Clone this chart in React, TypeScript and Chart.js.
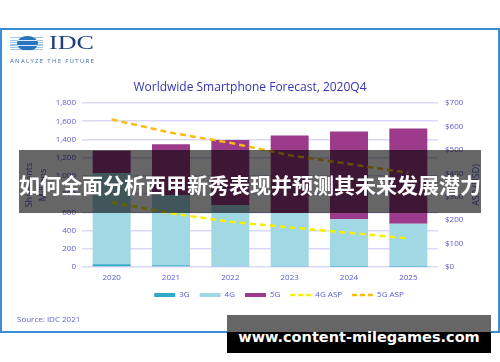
import React, { useEffect, useRef } from 'react';
import { Chart, registerables } from 'chart.js';

Chart.register(...registerables);

const categories = ['2020', '2021', '2022', '2023', '2024', '2025'];
const shipments3G = [30, 20, 12, 6, 3, 2];
const shipments4G = [1003, 771, 669, 587, 521, 474];
const shipments5G = [242, 557, 714, 850, 963, 1044];
const asp4G = [276, 229, 193, 169, 146, 122];
const asp5G = [630, 573, 530, 477, 440, 402];
const shipmentTicks = [0, 200, 400, 600, 800, 1000, 1200, 1400, 1600, 1800];
const aspTicks = [0, 100, 200, 300, 400, 500, 600, 700];

const COLORS = {
  g3: '#31a9c6',
  g4: '#a0d8e3',
  g5: '#9c3b8b',
  asp4: '#f5f000',
  asp5: '#fbbc10',
  tick: '#5a5ad2',
  grid: '#d9d9f5',
};

const TICK_FONT = { family: '"Open Sans", sans-serif', size: 8 };

export default function App() {
  const ref = useRef<HTMLCanvasElement>(null);

  useEffect(() => {
    const canvas = ref.current;
    if (!canvas) return;
    const legendShift = {
      id: 'legendShift',
      afterLayout(chart: any) {
        if (chart.legend) {
          chart.legend.left += 29;
          chart.legend.right += 29;
        }
      },
    };
    const chart = new Chart(canvas, {
      type: 'bar',
      data: {
        labels: categories,
        datasets: [
          { type: 'bar', label: '3G', data: shipments3G, backgroundColor: COLORS.g3, yAxisID: 'y', order: 1 },
          { type: 'bar', label: '4G', data: shipments4G, backgroundColor: COLORS.g4, yAxisID: 'y', order: 1 },
          { type: 'bar', label: '5G', data: shipments5G, backgroundColor: COLORS.g5, yAxisID: 'y', order: 1 },
          {
            type: 'line', label: '4G ASP', data: asp4G, borderColor: COLORS.asp4, backgroundColor: COLORS.asp4,
            borderWidth: 2.5, borderDash: [6, 4], pointRadius: 0, yAxisID: 'y1', order: 0, stack: 'asp4',
          },
          {
            type: 'line', label: '5G ASP', data: asp5G, borderColor: COLORS.asp5, backgroundColor: COLORS.asp5,
            borderWidth: 2.5, borderDash: [6, 4], pointRadius: 0, yAxisID: 'y1', order: 0, stack: 'asp5',
          },
        ] as any,
      },
      options: {
        responsive: false,
        animation: false,
        devicePixelRatio: 1,
        layout: { padding: { left: 0, right: 0, top: 103, bottom: 53 } },
        datasets: { bar: { barPercentage: 0.64, categoryPercentage: 1 } } as any,
        scales: {
          x: {
            stacked: true,
            grid: { display: false, drawTicks: false },
            border: { display: false },
            ticks: { color: COLORS.tick, font: TICK_FONT, padding: 6, maxRotation: 0 },
            afterFit: (s: any) => { s.height = 14; },
          },
          y: {
            stacked: true,
            position: 'left',
            min: 0,
            max: 1800,
            grid: { color: COLORS.grid, lineWidth: 1.5, drawTicks: false },
            border: { display: false },
            ticks: {
              color: COLORS.tick,
              font: TICK_FONT,
              padding: 6,
              callback: (v: any) => Number(v).toLocaleString('en-US'),
            },
            afterBuildTicks: (s: any) => { s.ticks = shipmentTicks.map((v) => ({ value: v })); },
            title: {
              display: true,
              text: ['Shipments', 'Millions'],
              color: COLORS.tick,
              font: { family: '"Open Sans", sans-serif', size: 9, lineHeight: 1.5 },
              padding: { top: 23, bottom: 0 },
            },
            afterFit: (s: any) => { s.width = 82; },
          },
          y1: {
            stacked: false,
            position: 'right',
            min: 0,
            max: 700,
            grid: { display: false, drawTicks: false },
            border: { display: false },
            ticks: {
              color: COLORS.tick,
              font: TICK_FONT,
              padding: 7,
              callback: (v: any) => '$' + v,
            },
            afterBuildTicks: (s: any) => { s.ticks = aspTicks.map((v) => ({ value: v })); },
            afterFit: (s: any) => { s.width = 62; },
          },
        },
        plugins: {
          title: { display: false },
          tooltip: { enabled: false },
          legend: {
            display: true,
            position: 'bottom',
            labels: {
              color: COLORS.tick,
              font: TICK_FONT,
              padding: 10,
              usePointStyle: true,
              boxHeight: 4,
              pointStyleWidth: 21,
              sort: (a: any, b: any) => a.datasetIndex - b.datasetIndex,
              generateLabels: (ch: any) => {
                const items = (Chart.defaults as any).plugins.legend.labels.generateLabels(ch);
                return items.map((it: any) => {
                  const ds: any = ch.data.datasets[it.datasetIndex];
                  if (ds.type === 'line') {
                    it.pointStyle = 'line';
                    it.lineWidth = 2.5;
                    it.strokeStyle = ds.borderColor;
                    it.fillStyle = ds.borderColor;
                    it.lineDash = [5, 3];
                  } else {
                    it.pointStyle = 'rect';
                    it.lineWidth = 0;
                    it.strokeStyle = ds.backgroundColor;
                    it.fillStyle = ds.backgroundColor;
                    it.lineDash = [];
                  }
                  return it;
                });
              },
            },
          },
        },
      } as any,
      plugins: [legendShift],
    });
    return () => chart.destroy();
  }, []);

  return (
    <div
      style={{
        position: 'absolute',
        left: 0,
        top: 0,
        width: 500,
        height: 362,
        background: '#ffffff',
        overflow: 'hidden',
        fontFamily: '"Open Sans", sans-serif',
      }}
    >
      <canvas
        ref={ref}
        width={500}
        height={362}
        style={{ position: 'absolute', left: 0, top: 0, width: 500, height: 362 }}
      />
      {/* frame */}
      <div
        style={{
          position: 'absolute',
          left: 0,
          top: 28,
          width: 500,
          height: 305,
          boxSizing: 'border-box',
          border: '2px solid #3c8dd4',
          pointerEvents: 'none',
        }}
      />
      {/* IDC logo */}
      <div
        style={{
          position: 'absolute',
          left: 10,
          top: 37,
          width: 33,
          height: 13,
          background: 'repeating-linear-gradient(to bottom, #9cc6ea 0px, #9cc6ea 1px, transparent 1px, transparent 2.5px)',
        }}
      />
      <div
        style={{
          position: 'absolute',
          left: 17,
          top: 36,
          width: 21,
          height: 15,
          borderRadius: '50%',
          background: 'repeating-linear-gradient(to bottom, #2a73bd 0px, #2a73bd 1.6px, #dcebf8 1.6px, #dcebf8 2.5px)',
        }}
      />
      <div
        style={{
          position: 'absolute',
          left: 49,
          top: 31,
          fontFamily: '"Liberation Serif", serif',
          fontSize: 18,
          lineHeight: '24px',
          color: '#1d3f7d',
          transform: 'scaleX(1.45)',
          transformOrigin: 'left center',
        }}
      >
        IDC
      </div>
      <div
        style={{
          position: 'absolute',
          left: 10,
          top: 58,
          fontSize: 6,
          lineHeight: '7px',
          letterSpacing: 1.3,
          color: '#3b70b2',
          whiteSpace: 'nowrap',
        }}
      >
        ANALYZE THE FUTURE
      </div>
      {/* title */}
      <div
        style={{
          position: 'absolute',
          left: 0,
          top: 79,
          width: 500,
          textAlign: 'center',
          fontSize: 12,
          lineHeight: '15px',
          color: '#3535b4',
          whiteSpace: 'nowrap',
        }}
      >
        Worldwide Smartphone Forecast, 2020Q4
      </div>
      {/* right axis title */}
      <div
        style={{
          position: 'absolute',
          left: 475,
          top: 185,
          fontSize: 9,
          lineHeight: '11px',
          color: COLORS.tick,
          whiteSpace: 'nowrap',
          transform: 'translate(-50%, -50%) rotate(-90deg)',
        }}
      >
        ASP (USD)
      </div>
      {/* source */}
      <div
        style={{
          position: 'absolute',
          left: 17,
          top: 313,
          fontSize: 8,
          lineHeight: '12px',
          color: '#6464d8',
          whiteSpace: 'nowrap',
        }}
      >
        Source: IDC 2021
      </div>
      {/* overlay banner */}
      <div
        style={{
          position: 'absolute',
          left: 19,
          top: 150,
          width: 462,
          height: 63,
          background: 'rgba(0,0,0,0.6)',
          display: 'flex',
          alignItems: 'center',
          justifyContent: 'center',
          paddingTop: 4,
          boxSizing: 'border-box',
        }}
      >
        <span
          style={{
            fontFamily: '"Noto Sans CJK SC", sans-serif',
            fontWeight: 700,
            fontSize: 21,
            color: '#ffffff',
            whiteSpace: 'nowrap',
            lineHeight: '26px',
          }}
        >
          如何全面分析西甲新秀表现并预测其未来发展潜力
        </span>
      </div>
      {/* bottom-right watermark box */}
      <div
        style={{
          position: 'absolute',
          left: 227,
          top: 315,
          width: 264,
          height: 38,
          background: 'linear-gradient(to bottom, #666666 0px, #666666 17px, #000000 17px, #000000 38px)',
          display: 'flex',
          justifyContent: 'center',
          alignItems: 'flex-start',
        }}
      >
        <span
          style={{
            marginTop: 13,
            fontFamily: '"DejaVu Sans", sans-serif',
            fontWeight: 700,
            fontSize: 14.5,
            lineHeight: '18px',
            color: '#ffffff',
            whiteSpace: 'nowrap',
          }}
        >
          www.content-milegames.com
        </span>
      </div>
    </div>
  );
}
